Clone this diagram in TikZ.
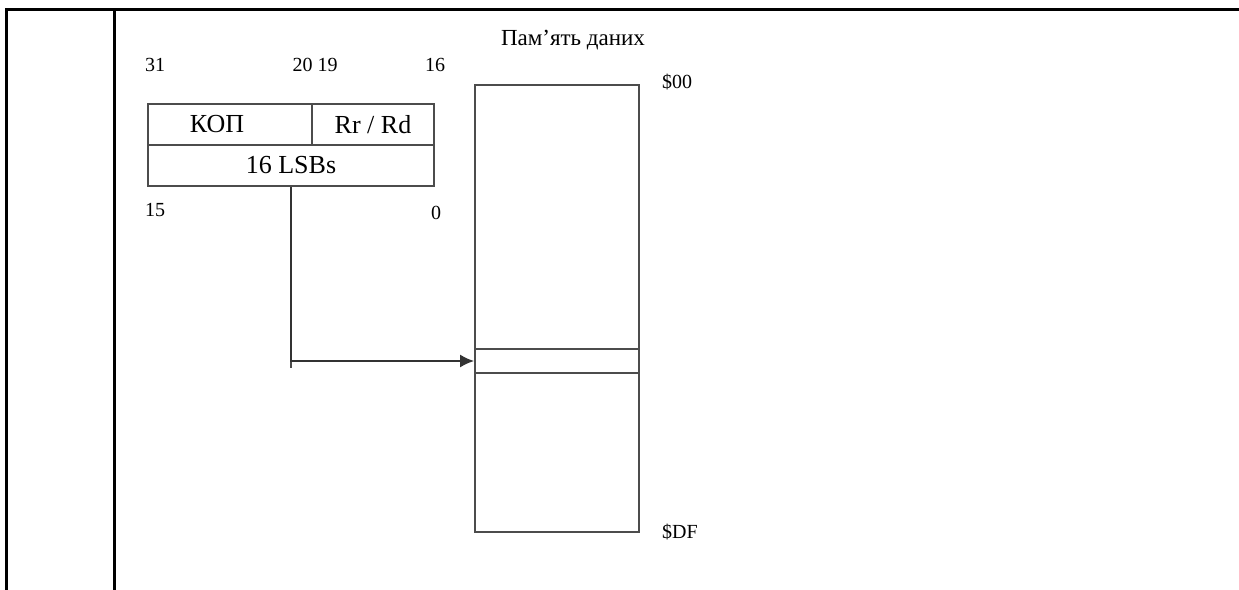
\documentclass[tikz,border=0pt]{standalone}
\usepackage{fontspec}
\setmainfont{Liberation Serif}
\usetikzlibrary{arrows.meta}

\begin{document}
\begin{tikzpicture}[x=0.5pt,y=-0.5pt, field/.style={draw=black!70,line width=0.9pt,minimum height=20.5pt,inner sep=0pt,font=\fontsize{13}{15}\selectfont}, num/.style={inner sep=0pt,font=\fontsize{10}{12}\selectfont}, arrow/.style={-{Latex[length=7pt,width=6.5pt]},line width=0.9pt,color=black!80}]
\useasboundingbox (0,0) rectangle (1239,590);
% table frame
\draw[line width=1.5pt] (6,590) -- (6,9) -- (1239,9);
\draw[line width=1.5pt] (114,9) -- (114,590);
% instruction word
\node (kop) [field,minimum width=82pt] at (230,124.5) {\hspace*{-13pt}КОП};
\node (reg) [field,minimum width=61pt] at (373,124.5) {Rr / Rd};
\node (lsb) [field,minimum width=143pt] at (291,165.5) {16 LSBs};
\node (b31) [num] at (155,65) {31};
\node (b20) [num] at (315,65) {20 19};
\node (b16) [num] at (435,65) {16};
\node (b15) [num] at (155,210) {15};
\node (b0) [num] at (436,213) {0};
% data memory
\node (title) [num,font=\fontsize{11.5}{13}\selectfont] at (573,40) {Пам’ять даних};
\node (mem) [field,minimum width=82pt,minimum height=223.5pt] at (557,308.5) {};
\node (cell) [field,minimum width=82pt,minimum height=12pt] at (557,361) {};
\node (top) [num] at (677,82) {\$00};
\node (end) [num] at (680,532) {\$DF};
\draw[line width=0.9pt,black!70] (lsb.south) -- ++(0,181);
\draw[arrow] (lsb.south) |- (cell.west);
\end{tikzpicture}
\end{document}
